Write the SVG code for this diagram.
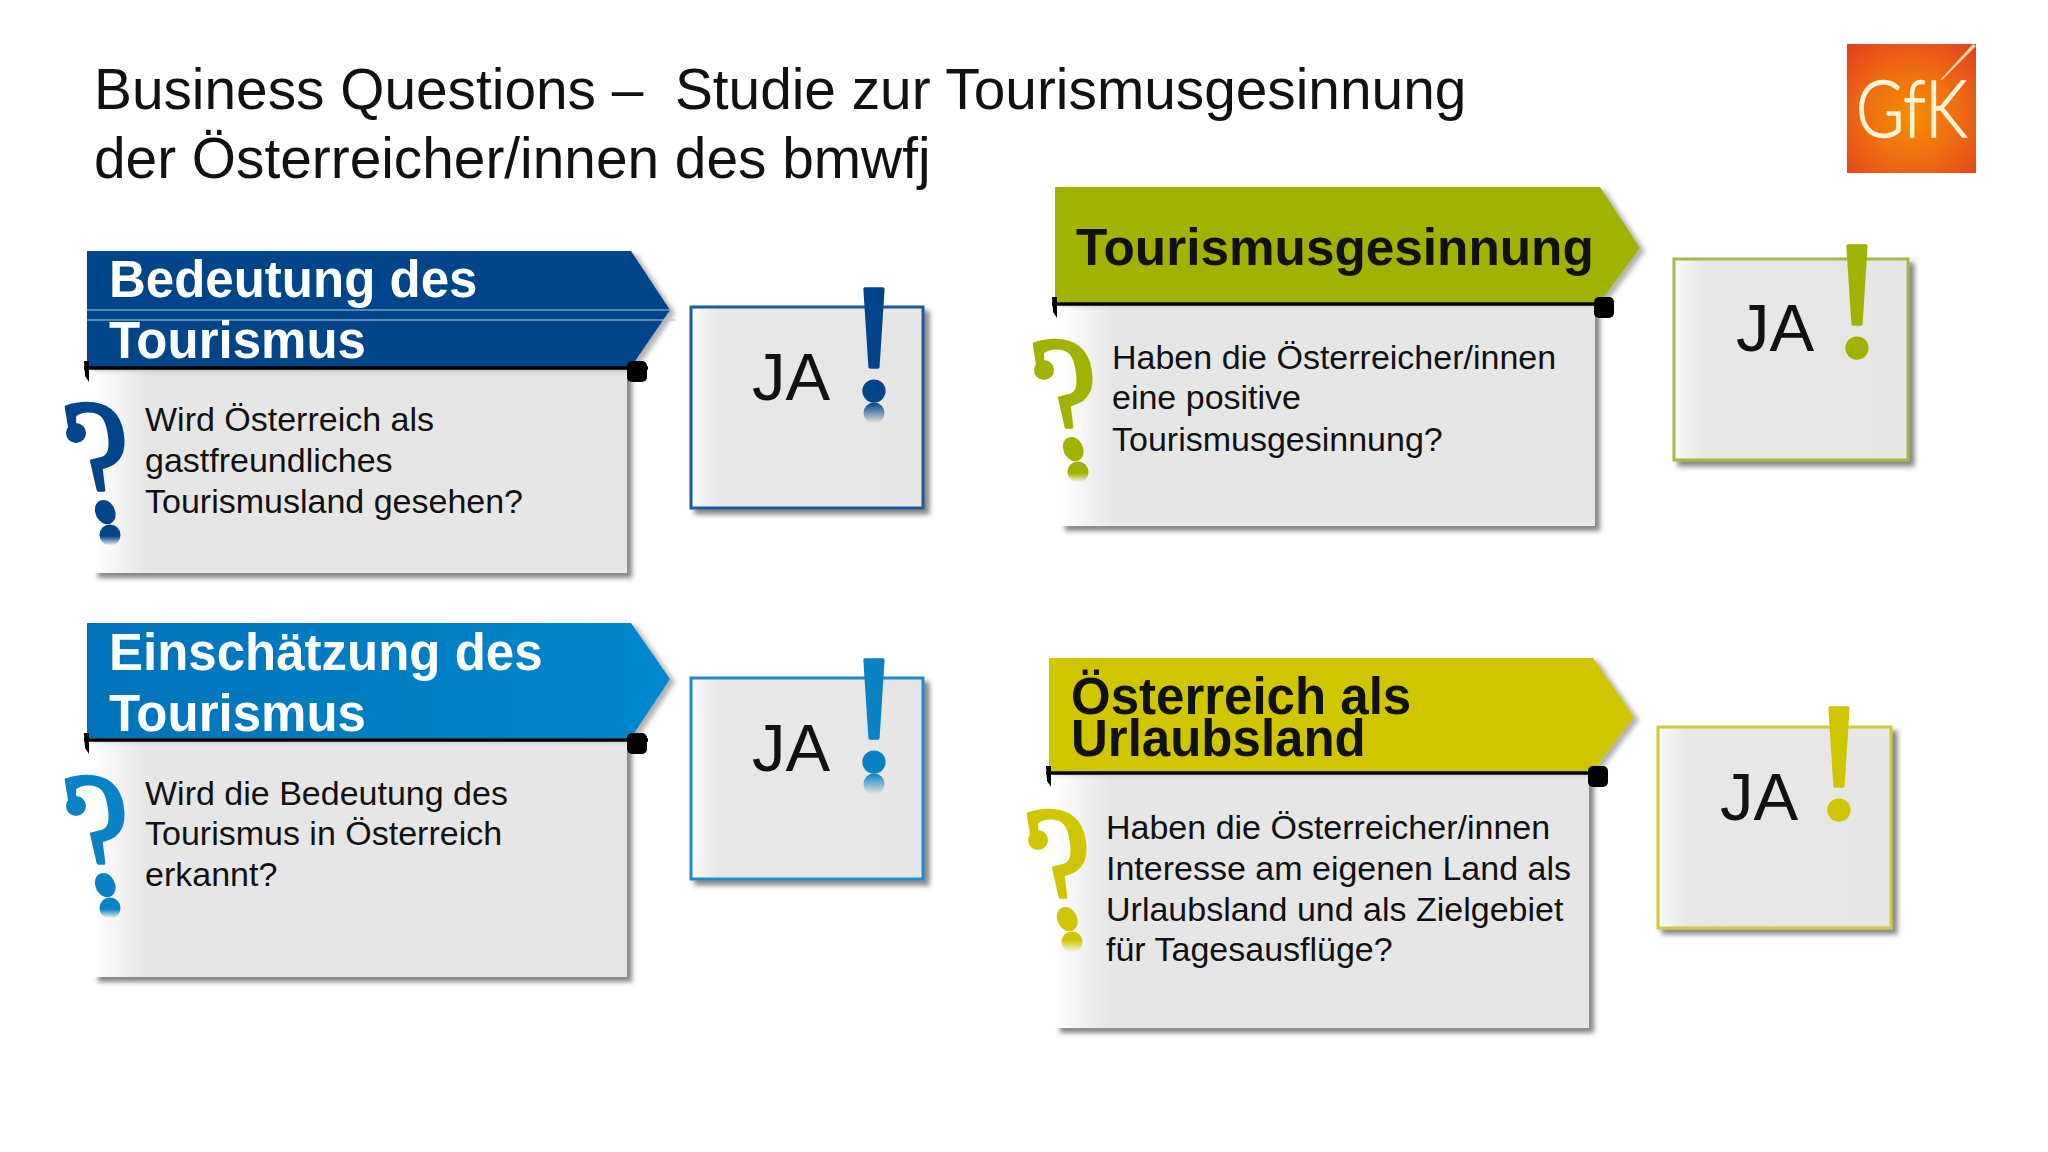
<svg xmlns="http://www.w3.org/2000/svg" width="2048" height="1152" viewBox="0 0 2048 1152">
<style>
text{font-family:"Liberation Sans",Arial,sans-serif}
.title{font-size:56.8px;fill:#111;white-space:pre}
.head{font-size:51px;font-weight:700}
.body{font-size:34px;fill:#111}
.ja{font-size:67px;fill:#111}
.q{font-family:"Liberation Serif","Times New Roman",serif;font-size:176px;stroke-width:3.5;stroke-linejoin:round}
.ex{font-family:"Liberation Serif","Times New Roman",serif;font-size:167px;text-anchor:middle;stroke-width:3.5;stroke-linejoin:round}
.panel{fill:url(#panel);filter:url(#sh)}
.arrow{filter:url(#sh2)}
.bar{fill:none;stroke:#000;stroke-width:3.5}
.tick{fill:#000}
</style>
<defs>
<linearGradient id="panel" x1="0" x2="1" y1="0" y2="0"><stop offset="0" stop-color="#fff"/><stop offset=".1" stop-color="#e7e6e6"/><stop offset="1" stop-color="#e7e6e6"/></linearGradient>
<linearGradient id="box" x1="0" x2="1" y1="0" y2="0"><stop offset="0" stop-color="#fafafa"/><stop offset=".12" stop-color="#e7e7e7"/><stop offset="1" stop-color="#e7e6e6"/></linearGradient>
<linearGradient id="arrow2" x1="0" x2="1" y1="0" y2="0"><stop offset="0" stop-color="#0072ba"/><stop offset="1" stop-color="#0088cc"/></linearGradient>
<linearGradient id="r1" x1="0" x2="0" y1="0" y2="1"><stop offset="0" stop-color="#004489"/><stop offset=".55" stop-color="#004489"/><stop offset="1" stop-color="#004489" stop-opacity="0"/></linearGradient>
<linearGradient id="r2" x1="0" x2="0" y1="0" y2="1"><stop offset="0" stop-color="#0a82c4"/><stop offset=".55" stop-color="#0a82c4"/><stop offset="1" stop-color="#0a82c4" stop-opacity="0"/></linearGradient>
<linearGradient id="r3" x1="0" x2="0" y1="0" y2="1"><stop offset="0" stop-color="#a2b200"/><stop offset=".55" stop-color="#a2b200"/><stop offset="1" stop-color="#a2b200" stop-opacity="0"/></linearGradient>
<linearGradient id="r4" x1="0" x2="0" y1="0" y2="1"><stop offset="0" stop-color="#cfc600"/><stop offset=".4" stop-color="#cfc600"/><stop offset="1" stop-color="#cfc600" stop-opacity="0"/></linearGradient>
<linearGradient id="e1" x1="0" x2="0" y1="0" y2="1"><stop offset="0" stop-color="#004489"/><stop offset="1" stop-color="#004489" stop-opacity="0"/></linearGradient>
<linearGradient id="e2" x1="0" x2="0" y1="0" y2="1"><stop offset="0" stop-color="#0a82c4"/><stop offset="1" stop-color="#0a82c4" stop-opacity="0"/></linearGradient>
<radialGradient id="logo" cx=".5" cy=".55" r=".7"><stop offset="0" stop-color="#f59000"/><stop offset=".55" stop-color="#ee6a12"/><stop offset="1" stop-color="#e4431c"/></radialGradient>
<filter id="sh" x="-5%" y="-5%" width="112%" height="115%"><feDropShadow dx="5" dy="5" stdDeviation="2.5" flood-color="#444" flood-opacity=".65"/></filter>
<filter id="sh2" x="-5%" y="-5%" width="112%" height="115%"><feDropShadow dx="5" dy="3" stdDeviation="2.5" flood-color="#555" flood-opacity=".45"/></filter>
</defs>

<g id="title">
<text class="title" x="94" y="109" xml:space="preserve">Business Questions –  Studie zur Tourismusgesinnung</text>
<text class="title" x="94" y="178">der Österreicher/innen des bmwfj</text>
</g>

<g id="logo-gfk">
<rect x="1847" y="44" width="129" height="129" fill="url(#logo)"/>
<polygon points="1976,46 1973,44 1941,79 1942,80" fill="#fbd9b0"/>
<text x="1856" y="137" font-size="78" font-weight="300" fill="#fff4d8" stroke="#fff4d8" stroke-width="1.5" textLength="111" lengthAdjust="spacingAndGlyphs" style="font-family:Lato,'Liberation Sans',sans-serif">GfK</text>
</g>

<g id="block-bedeutung">
<rect class="panel" x="93" y="368" width="534" height="205"/>
<polygon class="arrow" points="87,251 631,251 670,310 631,367 87,367" fill="#004489"/>
<path d="M87 310H672M87 320H676" stroke="#a9c4e4" stroke-width="1.2" fill="none"/>
<path class="bar" d="M84 368H648"/>
<path class="tick" d="M84 361H89V382L85 376Z"/>
<rect class="tick" x="627" y="361" width="20" height="21" rx="5"/>
<text class="head" x="109" y="297" fill="#fff">Bedeutung des</text>
<text class="head" x="109" y="358" fill="#fff">Tourismus</text>
<text class="q" transform="translate(77 520) scale(.84 1) skewX(11)" fill="#004489" stroke="#004489">?</text>
<circle cx="76" cy="433" r="10" fill="#004489"/>
<circle cx="110" cy="535" r="10.5" fill="url(#r1)"/>
<text class="body" x="145" y="431">Wird Österreich als</text>
<text class="body" x="145" y="472">gastfreundliches</text>
<text class="body" x="145" y="513">Tourismusland gesehen?</text>
</g>
<g id="answer-bedeutung">
<rect x="691" y="307" width="232" height="201" fill="url(#box)" stroke="#1a5a9e" stroke-width="3" filter="url(#sh)"/>
<text class="ja" x="752" y="400">JA</text>
<text class="ex" x="874" y="399" fill="#004489" stroke="#004489">!</text>
<circle cx="874" cy="413" r="10.5" fill="url(#e1)"/>
</g>

<g id="block-einschaetzung">
<rect class="panel" x="93" y="740" width="534" height="237"/>
<polygon class="arrow" points="87,623 631,623 670,679 631,738 87,738" fill="url(#arrow2)"/>
<path class="bar" d="M84 740H648"/>
<path class="tick" d="M84 733H89V754L85 748Z"/>
<rect class="tick" x="627" y="733" width="20" height="21" rx="5"/>
<text class="head" x="109" y="670" fill="#fff">Einschätzung des</text>
<text class="head" x="109" y="731" fill="#fff">Tourismus</text>
<text class="q" transform="translate(77 893) scale(.84 1) skewX(11)" fill="#0a82c4" stroke="#0a82c4">?</text>
<circle cx="76" cy="806" r="10" fill="#0a82c4"/>
<circle cx="110" cy="908" r="10.5" fill="url(#r2)"/>
<text class="body" x="145" y="805">Wird die Bedeutung des</text>
<text class="body" x="145" y="845">Tourismus in Österreich</text>
<text class="body" x="145" y="886">erkannt?</text>
</g>
<g id="answer-einschaetzung">
<rect x="691" y="678" width="232" height="201" fill="url(#box)" stroke="#1a8ccc" stroke-width="3" filter="url(#sh)"/>
<text class="ja" x="752" y="771">JA</text>
<text class="ex" x="874" y="770" fill="#0a82c4" stroke="#0a82c4">!</text>
<circle cx="874" cy="784" r="10.5" fill="url(#e2)"/>
</g>

<g id="block-tourismusgesinnung">
<rect class="panel" x="1060" y="304" width="535" height="222"/>
<polygon class="arrow" points="1055,187 1600,187 1640,248 1600,302 1055,302" fill="#a2b200"/>
<path class="bar" d="M1052 304H1612"/>
<path class="tick" d="M1052 297H1057V318L1053 312Z"/>
<rect class="tick" x="1594" y="297" width="20" height="21" rx="5"/>
<text class="head" x="1076" y="265" fill="#111" style="font-size:51.3px">Tourismusgesinnung</text>
<text class="q" transform="translate(1045 457) scale(.84 1) skewX(11)" fill="#a2b200" stroke="#a2b200">?</text>
<circle cx="1044" cy="370" r="10" fill="#a2b200"/>
<circle cx="1078" cy="472" r="10.5" fill="url(#r3)"/>
<text class="body" x="1112" y="369">Haben die Österreicher/innen</text>
<text class="body" x="1112" y="409">eine positive</text>
<text class="body" x="1112" y="451">Tourismusgesinnung?</text>
</g>
<g id="answer-tourismusgesinnung">
<rect x="1674" y="259" width="234" height="201" fill="url(#box)" stroke="#a9b844" stroke-width="3" filter="url(#sh)"/>
<text class="ja" x="1736" y="351">JA</text>
<text class="ex" x="1857" y="356" fill="#a2b200" stroke="#a2b200">!</text>
</g>

<g id="block-oesterreich">
<rect class="panel" x="1055" y="773" width="534" height="255"/>
<polygon class="arrow" points="1049,658 1593,658 1634,717 1593,771 1049,771" fill="#cfc600"/>
<path class="bar" d="M1046 773H1606"/>
<path class="tick" d="M1046 766H1051V787L1047 781Z"/>
<rect class="tick" x="1588" y="766" width="20" height="21" rx="5"/>
<text class="head" x="1071" y="714" fill="#111">Österreich als</text>
<text class="head" x="1071" y="756" fill="#111">Urlaubsland</text>
<text class="q" transform="translate(1039 927) scale(.84 1) skewX(11)" fill="#cfc600" stroke="#cfc600">?</text>
<circle cx="1038" cy="840" r="10" fill="#cfc600"/>
<circle cx="1072" cy="942" r="10.5" fill="url(#r4)"/>
<text class="body" x="1106" y="839">Haben die Österreicher/innen</text>
<text class="body" x="1106" y="880">Interesse am eigenen Land als</text>
<text class="body" x="1106" y="921">Urlaubsland und als Zielgebiet</text>
<text class="body" x="1106" y="961">für Tagesausflüge?</text>
</g>
<g id="answer-oesterreich">
<rect x="1658" y="727" width="233" height="201" fill="url(#box)" stroke="#cfc93a" stroke-width="3" filter="url(#sh)"/>
<text class="ja" x="1720" y="820">JA</text>
<text class="ex" x="1839" y="818" fill="#cfc600" stroke="#cfc600">!</text>
</g>
</svg>
